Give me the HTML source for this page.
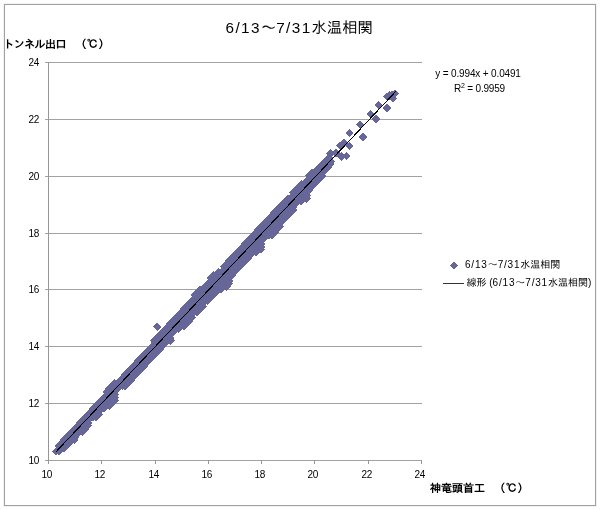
<!DOCTYPE html>
<html lang="ja"><head><meta charset="utf-8"><title>6/13～7/31水温相関</title>
<style>
html,body{margin:0;padding:0;background:#fff}
body{width:600px;height:510px;position:relative;overflow:hidden;font-family:"Liberation Sans","IPAGothic","Noto Sans CJK JP",sans-serif;color:#000}
.t{position:absolute;white-space:nowrap;line-height:1.2}
.title{font-size:15.3px}
.title .l{letter-spacing:1.4px}
.axl{font-size:11px;font-weight:bold}
.tick{font-size:10px;letter-spacing:-0.3px}
.eq{font-size:10px}
.eq sup{font-size:7px;line-height:0;vertical-align:4px}
.lg{font-size:10px}
.lg .l{letter-spacing:0.8px}
</style></head><body>
<svg width="600" height="510" viewBox="0 0 600 510" style="position:absolute;left:0;top:0">
<rect x="3.5" y="3.5" width="593" height="503" fill="none" stroke="#eef3f3" stroke-width="1" shape-rendering="crispEdges"/>
<rect x="4.5" y="4.5" width="591" height="501" fill="#fff" stroke="#a0a0a0" stroke-width="1" shape-rendering="crispEdges"/>
<path d="M45 460.5H421.5M45 403.5H421.5M45 346.5H421.5M45 289.5H421.5M45 233.5H421.5M45 176.5H421.5M45 119.5H421.5M45 62.5H421.5" stroke="#a2a2a2" stroke-width="1" fill="none" shape-rendering="crispEdges"/>
<path d="M48.5 62V464M48.5 460V464M101.5 460V464M155.5 460V464M208.5 460V464M261.5 460V464M314.5 460V464M368.5 460V464M421.5 460V464" stroke="#969696" stroke-width="1" fill="none" shape-rendering="crispEdges"/>
<path d="M51.8 451.5l4.15 -4.15l4.15 4.15l-4.15 4.15zM54.5 451.5l4.15 -4.15l4.15 4.15l-4.15 4.15zM54.5 448.6l4.15 -4.15l4.15 4.15l-4.15 4.15zM57.2 448.6l4.15 -4.15l4.15 4.15l-4.15 4.15zM59.8 448.6l4.15 -4.15l4.15 4.15l-4.15 4.15zM54.5 445.8l4.15 -4.15l4.15 4.15l-4.15 4.15zM57.2 445.8l4.15 -4.15l4.15 4.15l-4.15 4.15zM59.8 445.8l4.15 -4.15l4.15 4.15l-4.15 4.15zM62.5 445.8l4.15 -4.15l4.15 4.15l-4.15 4.15zM57.2 442.9l4.15 -4.15l4.15 4.15l-4.15 4.15zM59.8 442.9l4.15 -4.15l4.15 4.15l-4.15 4.15zM62.5 442.9l4.15 -4.15l4.15 4.15l-4.15 4.15zM65.2 442.9l4.15 -4.15l4.15 4.15l-4.15 4.15zM59.8 440.1l4.15 -4.15l4.15 4.15l-4.15 4.15zM62.5 440.1l4.15 -4.15l4.15 4.15l-4.15 4.15zM65.2 440.1l4.15 -4.15l4.15 4.15l-4.15 4.15zM67.8 440.1l4.15 -4.15l4.15 4.15l-4.15 4.15zM70.5 440.1l4.15 -4.15l4.15 4.15l-4.15 4.15zM62.5 437.3l4.15 -4.15l4.15 4.15l-4.15 4.15zM65.2 437.3l4.15 -4.15l4.15 4.15l-4.15 4.15zM67.8 437.3l4.15 -4.15l4.15 4.15l-4.15 4.15zM70.5 437.3l4.15 -4.15l4.15 4.15l-4.15 4.15zM65.2 434.4l4.15 -4.15l4.15 4.15l-4.15 4.15zM67.8 434.4l4.15 -4.15l4.15 4.15l-4.15 4.15zM70.5 434.4l4.15 -4.15l4.15 4.15l-4.15 4.15zM73.2 434.4l4.15 -4.15l4.15 4.15l-4.15 4.15zM67.8 431.6l4.15 -4.15l4.15 4.15l-4.15 4.15zM70.5 431.6l4.15 -4.15l4.15 4.15l-4.15 4.15zM73.2 431.6l4.15 -4.15l4.15 4.15l-4.15 4.15zM75.8 431.6l4.15 -4.15l4.15 4.15l-4.15 4.15zM78.5 431.6l4.15 -4.15l4.15 4.15l-4.15 4.15zM70.5 428.7l4.15 -4.15l4.15 4.15l-4.15 4.15zM73.2 428.7l4.15 -4.15l4.15 4.15l-4.15 4.15zM75.8 428.7l4.15 -4.15l4.15 4.15l-4.15 4.15zM78.5 428.7l4.15 -4.15l4.15 4.15l-4.15 4.15zM81.2 428.7l4.15 -4.15l4.15 4.15l-4.15 4.15zM73.2 425.9l4.15 -4.15l4.15 4.15l-4.15 4.15zM75.8 425.9l4.15 -4.15l4.15 4.15l-4.15 4.15zM78.5 425.9l4.15 -4.15l4.15 4.15l-4.15 4.15zM81.2 425.9l4.15 -4.15l4.15 4.15l-4.15 4.15zM83.8 425.9l4.15 -4.15l4.15 4.15l-4.15 4.15zM75.8 423.0l4.15 -4.15l4.15 4.15l-4.15 4.15zM78.5 423.0l4.15 -4.15l4.15 4.15l-4.15 4.15zM81.2 423.0l4.15 -4.15l4.15 4.15l-4.15 4.15zM83.8 423.0l4.15 -4.15l4.15 4.15l-4.15 4.15zM78.5 420.2l4.15 -4.15l4.15 4.15l-4.15 4.15zM81.2 420.2l4.15 -4.15l4.15 4.15l-4.15 4.15zM83.8 420.2l4.15 -4.15l4.15 4.15l-4.15 4.15zM81.2 417.4l4.15 -4.15l4.15 4.15l-4.15 4.15zM83.8 417.4l4.15 -4.15l4.15 4.15l-4.15 4.15zM86.5 417.4l4.15 -4.15l4.15 4.15l-4.15 4.15zM89.1 417.4l4.15 -4.15l4.15 4.15l-4.15 4.15zM91.8 417.4l4.15 -4.15l4.15 4.15l-4.15 4.15zM83.8 414.5l4.15 -4.15l4.15 4.15l-4.15 4.15zM86.5 414.5l4.15 -4.15l4.15 4.15l-4.15 4.15zM89.1 414.5l4.15 -4.15l4.15 4.15l-4.15 4.15zM91.8 414.5l4.15 -4.15l4.15 4.15l-4.15 4.15zM94.5 414.5l4.15 -4.15l4.15 4.15l-4.15 4.15zM86.5 411.7l4.15 -4.15l4.15 4.15l-4.15 4.15zM89.1 411.7l4.15 -4.15l4.15 4.15l-4.15 4.15zM91.8 411.7l4.15 -4.15l4.15 4.15l-4.15 4.15zM94.5 411.7l4.15 -4.15l4.15 4.15l-4.15 4.15zM89.1 408.8l4.15 -4.15l4.15 4.15l-4.15 4.15zM91.8 408.8l4.15 -4.15l4.15 4.15l-4.15 4.15zM94.5 408.8l4.15 -4.15l4.15 4.15l-4.15 4.15zM97.1 408.8l4.15 -4.15l4.15 4.15l-4.15 4.15zM99.8 408.8l4.15 -4.15l4.15 4.15l-4.15 4.15zM91.8 406.0l4.15 -4.15l4.15 4.15l-4.15 4.15zM94.5 406.0l4.15 -4.15l4.15 4.15l-4.15 4.15zM97.1 406.0l4.15 -4.15l4.15 4.15l-4.15 4.15zM99.8 406.0l4.15 -4.15l4.15 4.15l-4.15 4.15zM102.5 406.0l4.15 -4.15l4.15 4.15l-4.15 4.15zM105.1 406.0l4.15 -4.15l4.15 4.15l-4.15 4.15zM94.5 403.1l4.15 -4.15l4.15 4.15l-4.15 4.15zM97.1 403.1l4.15 -4.15l4.15 4.15l-4.15 4.15zM99.8 403.1l4.15 -4.15l4.15 4.15l-4.15 4.15zM102.5 403.1l4.15 -4.15l4.15 4.15l-4.15 4.15zM105.1 403.1l4.15 -4.15l4.15 4.15l-4.15 4.15zM107.8 403.1l4.15 -4.15l4.15 4.15l-4.15 4.15zM97.1 400.3l4.15 -4.15l4.15 4.15l-4.15 4.15zM99.8 400.3l4.15 -4.15l4.15 4.15l-4.15 4.15zM102.5 400.3l4.15 -4.15l4.15 4.15l-4.15 4.15zM105.1 400.3l4.15 -4.15l4.15 4.15l-4.15 4.15zM107.8 400.3l4.15 -4.15l4.15 4.15l-4.15 4.15zM110.5 400.3l4.15 -4.15l4.15 4.15l-4.15 4.15zM99.8 397.5l4.15 -4.15l4.15 4.15l-4.15 4.15zM102.5 397.5l4.15 -4.15l4.15 4.15l-4.15 4.15zM105.1 397.5l4.15 -4.15l4.15 4.15l-4.15 4.15zM107.8 397.5l4.15 -4.15l4.15 4.15l-4.15 4.15zM110.5 397.5l4.15 -4.15l4.15 4.15l-4.15 4.15zM102.5 394.6l4.15 -4.15l4.15 4.15l-4.15 4.15zM105.1 394.6l4.15 -4.15l4.15 4.15l-4.15 4.15zM107.8 394.6l4.15 -4.15l4.15 4.15l-4.15 4.15zM110.5 394.6l4.15 -4.15l4.15 4.15l-4.15 4.15zM102.5 391.8l4.15 -4.15l4.15 4.15l-4.15 4.15zM105.1 391.8l4.15 -4.15l4.15 4.15l-4.15 4.15zM107.8 391.8l4.15 -4.15l4.15 4.15l-4.15 4.15zM110.5 391.8l4.15 -4.15l4.15 4.15l-4.15 4.15zM105.1 388.9l4.15 -4.15l4.15 4.15l-4.15 4.15zM107.8 388.9l4.15 -4.15l4.15 4.15l-4.15 4.15zM110.5 388.9l4.15 -4.15l4.15 4.15l-4.15 4.15zM113.1 388.9l4.15 -4.15l4.15 4.15l-4.15 4.15zM107.8 386.1l4.15 -4.15l4.15 4.15l-4.15 4.15zM110.5 386.1l4.15 -4.15l4.15 4.15l-4.15 4.15zM113.1 386.1l4.15 -4.15l4.15 4.15l-4.15 4.15zM115.8 386.1l4.15 -4.15l4.15 4.15l-4.15 4.15zM118.5 386.1l4.15 -4.15l4.15 4.15l-4.15 4.15zM121.1 386.1l4.15 -4.15l4.15 4.15l-4.15 4.15zM110.5 383.2l4.15 -4.15l4.15 4.15l-4.15 4.15zM113.1 383.2l4.15 -4.15l4.15 4.15l-4.15 4.15zM115.8 383.2l4.15 -4.15l4.15 4.15l-4.15 4.15zM118.5 383.2l4.15 -4.15l4.15 4.15l-4.15 4.15zM121.1 383.2l4.15 -4.15l4.15 4.15l-4.15 4.15zM123.8 383.2l4.15 -4.15l4.15 4.15l-4.15 4.15zM115.8 380.4l4.15 -4.15l4.15 4.15l-4.15 4.15zM118.5 380.4l4.15 -4.15l4.15 4.15l-4.15 4.15zM121.1 380.4l4.15 -4.15l4.15 4.15l-4.15 4.15zM123.8 380.4l4.15 -4.15l4.15 4.15l-4.15 4.15zM126.4 380.4l4.15 -4.15l4.15 4.15l-4.15 4.15zM118.5 377.6l4.15 -4.15l4.15 4.15l-4.15 4.15zM121.1 377.6l4.15 -4.15l4.15 4.15l-4.15 4.15zM123.8 377.6l4.15 -4.15l4.15 4.15l-4.15 4.15zM126.4 377.6l4.15 -4.15l4.15 4.15l-4.15 4.15zM129.1 377.6l4.15 -4.15l4.15 4.15l-4.15 4.15zM121.1 374.7l4.15 -4.15l4.15 4.15l-4.15 4.15zM123.8 374.7l4.15 -4.15l4.15 4.15l-4.15 4.15zM126.4 374.7l4.15 -4.15l4.15 4.15l-4.15 4.15zM129.1 374.7l4.15 -4.15l4.15 4.15l-4.15 4.15zM131.8 374.7l4.15 -4.15l4.15 4.15l-4.15 4.15zM123.8 371.9l4.15 -4.15l4.15 4.15l-4.15 4.15zM126.4 371.9l4.15 -4.15l4.15 4.15l-4.15 4.15zM129.1 371.9l4.15 -4.15l4.15 4.15l-4.15 4.15zM131.8 371.9l4.15 -4.15l4.15 4.15l-4.15 4.15zM134.4 371.9l4.15 -4.15l4.15 4.15l-4.15 4.15zM126.4 369.0l4.15 -4.15l4.15 4.15l-4.15 4.15zM129.1 369.0l4.15 -4.15l4.15 4.15l-4.15 4.15zM131.8 369.0l4.15 -4.15l4.15 4.15l-4.15 4.15zM134.4 369.0l4.15 -4.15l4.15 4.15l-4.15 4.15zM137.1 369.0l4.15 -4.15l4.15 4.15l-4.15 4.15zM129.1 366.2l4.15 -4.15l4.15 4.15l-4.15 4.15zM131.8 366.2l4.15 -4.15l4.15 4.15l-4.15 4.15zM134.4 366.2l4.15 -4.15l4.15 4.15l-4.15 4.15zM137.1 366.2l4.15 -4.15l4.15 4.15l-4.15 4.15zM139.8 366.2l4.15 -4.15l4.15 4.15l-4.15 4.15zM131.8 363.3l4.15 -4.15l4.15 4.15l-4.15 4.15zM134.4 363.3l4.15 -4.15l4.15 4.15l-4.15 4.15zM137.1 363.3l4.15 -4.15l4.15 4.15l-4.15 4.15zM139.8 363.3l4.15 -4.15l4.15 4.15l-4.15 4.15zM142.4 363.3l4.15 -4.15l4.15 4.15l-4.15 4.15zM134.4 360.5l4.15 -4.15l4.15 4.15l-4.15 4.15zM137.1 360.5l4.15 -4.15l4.15 4.15l-4.15 4.15zM139.8 360.5l4.15 -4.15l4.15 4.15l-4.15 4.15zM142.4 360.5l4.15 -4.15l4.15 4.15l-4.15 4.15zM145.1 360.5l4.15 -4.15l4.15 4.15l-4.15 4.15zM137.1 357.7l4.15 -4.15l4.15 4.15l-4.15 4.15zM139.8 357.7l4.15 -4.15l4.15 4.15l-4.15 4.15zM142.4 357.7l4.15 -4.15l4.15 4.15l-4.15 4.15zM145.1 357.7l4.15 -4.15l4.15 4.15l-4.15 4.15zM147.8 357.7l4.15 -4.15l4.15 4.15l-4.15 4.15zM139.8 354.8l4.15 -4.15l4.15 4.15l-4.15 4.15zM142.4 354.8l4.15 -4.15l4.15 4.15l-4.15 4.15zM145.1 354.8l4.15 -4.15l4.15 4.15l-4.15 4.15zM147.8 354.8l4.15 -4.15l4.15 4.15l-4.15 4.15zM150.4 354.8l4.15 -4.15l4.15 4.15l-4.15 4.15zM142.4 352.0l4.15 -4.15l4.15 4.15l-4.15 4.15zM145.1 352.0l4.15 -4.15l4.15 4.15l-4.15 4.15zM147.8 352.0l4.15 -4.15l4.15 4.15l-4.15 4.15zM150.4 352.0l4.15 -4.15l4.15 4.15l-4.15 4.15zM153.1 352.0l4.15 -4.15l4.15 4.15l-4.15 4.15zM145.1 349.1l4.15 -4.15l4.15 4.15l-4.15 4.15zM147.8 349.1l4.15 -4.15l4.15 4.15l-4.15 4.15zM150.4 349.1l4.15 -4.15l4.15 4.15l-4.15 4.15zM153.1 349.1l4.15 -4.15l4.15 4.15l-4.15 4.15zM155.7 349.1l4.15 -4.15l4.15 4.15l-4.15 4.15zM147.8 346.3l4.15 -4.15l4.15 4.15l-4.15 4.15zM150.4 346.3l4.15 -4.15l4.15 4.15l-4.15 4.15zM153.1 346.3l4.15 -4.15l4.15 4.15l-4.15 4.15zM155.7 346.3l4.15 -4.15l4.15 4.15l-4.15 4.15zM158.4 346.3l4.15 -4.15l4.15 4.15l-4.15 4.15zM150.4 343.4l4.15 -4.15l4.15 4.15l-4.15 4.15zM153.1 343.4l4.15 -4.15l4.15 4.15l-4.15 4.15zM155.7 343.4l4.15 -4.15l4.15 4.15l-4.15 4.15zM158.4 343.4l4.15 -4.15l4.15 4.15l-4.15 4.15zM161.1 343.4l4.15 -4.15l4.15 4.15l-4.15 4.15zM150.4 340.6l4.15 -4.15l4.15 4.15l-4.15 4.15zM153.1 340.6l4.15 -4.15l4.15 4.15l-4.15 4.15zM155.7 340.6l4.15 -4.15l4.15 4.15l-4.15 4.15zM158.4 340.6l4.15 -4.15l4.15 4.15l-4.15 4.15zM161.1 340.6l4.15 -4.15l4.15 4.15l-4.15 4.15zM163.7 340.6l4.15 -4.15l4.15 4.15l-4.15 4.15zM166.4 340.6l4.15 -4.15l4.15 4.15l-4.15 4.15zM153.1 337.8l4.15 -4.15l4.15 4.15l-4.15 4.15zM155.7 337.8l4.15 -4.15l4.15 4.15l-4.15 4.15zM158.4 337.8l4.15 -4.15l4.15 4.15l-4.15 4.15zM161.1 337.8l4.15 -4.15l4.15 4.15l-4.15 4.15zM163.7 337.8l4.15 -4.15l4.15 4.15l-4.15 4.15zM166.4 337.8l4.15 -4.15l4.15 4.15l-4.15 4.15zM155.7 334.9l4.15 -4.15l4.15 4.15l-4.15 4.15zM158.4 334.9l4.15 -4.15l4.15 4.15l-4.15 4.15zM161.1 334.9l4.15 -4.15l4.15 4.15l-4.15 4.15zM163.7 334.9l4.15 -4.15l4.15 4.15l-4.15 4.15zM166.4 334.9l4.15 -4.15l4.15 4.15l-4.15 4.15zM158.4 332.1l4.15 -4.15l4.15 4.15l-4.15 4.15zM161.1 332.1l4.15 -4.15l4.15 4.15l-4.15 4.15zM163.7 332.1l4.15 -4.15l4.15 4.15l-4.15 4.15zM166.4 332.1l4.15 -4.15l4.15 4.15l-4.15 4.15zM169.1 332.1l4.15 -4.15l4.15 4.15l-4.15 4.15zM161.1 329.2l4.15 -4.15l4.15 4.15l-4.15 4.15zM163.7 329.2l4.15 -4.15l4.15 4.15l-4.15 4.15zM166.4 329.2l4.15 -4.15l4.15 4.15l-4.15 4.15zM169.1 329.2l4.15 -4.15l4.15 4.15l-4.15 4.15zM171.7 329.2l4.15 -4.15l4.15 4.15l-4.15 4.15zM174.4 329.2l4.15 -4.15l4.15 4.15l-4.15 4.15zM163.7 326.4l4.15 -4.15l4.15 4.15l-4.15 4.15zM166.4 326.4l4.15 -4.15l4.15 4.15l-4.15 4.15zM169.1 326.4l4.15 -4.15l4.15 4.15l-4.15 4.15zM171.7 326.4l4.15 -4.15l4.15 4.15l-4.15 4.15zM174.4 326.4l4.15 -4.15l4.15 4.15l-4.15 4.15zM177.1 326.4l4.15 -4.15l4.15 4.15l-4.15 4.15zM179.7 326.4l4.15 -4.15l4.15 4.15l-4.15 4.15zM166.4 323.5l4.15 -4.15l4.15 4.15l-4.15 4.15zM169.1 323.5l4.15 -4.15l4.15 4.15l-4.15 4.15zM171.7 323.5l4.15 -4.15l4.15 4.15l-4.15 4.15zM174.4 323.5l4.15 -4.15l4.15 4.15l-4.15 4.15zM177.1 323.5l4.15 -4.15l4.15 4.15l-4.15 4.15zM179.7 323.5l4.15 -4.15l4.15 4.15l-4.15 4.15zM182.4 323.5l4.15 -4.15l4.15 4.15l-4.15 4.15zM169.1 320.7l4.15 -4.15l4.15 4.15l-4.15 4.15zM171.7 320.7l4.15 -4.15l4.15 4.15l-4.15 4.15zM174.4 320.7l4.15 -4.15l4.15 4.15l-4.15 4.15zM177.1 320.7l4.15 -4.15l4.15 4.15l-4.15 4.15zM179.7 320.7l4.15 -4.15l4.15 4.15l-4.15 4.15zM182.4 320.7l4.15 -4.15l4.15 4.15l-4.15 4.15zM185.1 320.7l4.15 -4.15l4.15 4.15l-4.15 4.15zM171.7 317.9l4.15 -4.15l4.15 4.15l-4.15 4.15zM174.4 317.9l4.15 -4.15l4.15 4.15l-4.15 4.15zM177.1 317.9l4.15 -4.15l4.15 4.15l-4.15 4.15zM179.7 317.9l4.15 -4.15l4.15 4.15l-4.15 4.15zM182.4 317.9l4.15 -4.15l4.15 4.15l-4.15 4.15zM185.1 317.9l4.15 -4.15l4.15 4.15l-4.15 4.15zM187.7 317.9l4.15 -4.15l4.15 4.15l-4.15 4.15zM174.4 315.0l4.15 -4.15l4.15 4.15l-4.15 4.15zM177.1 315.0l4.15 -4.15l4.15 4.15l-4.15 4.15zM179.7 315.0l4.15 -4.15l4.15 4.15l-4.15 4.15zM182.4 315.0l4.15 -4.15l4.15 4.15l-4.15 4.15zM185.1 315.0l4.15 -4.15l4.15 4.15l-4.15 4.15zM187.7 315.0l4.15 -4.15l4.15 4.15l-4.15 4.15zM177.1 312.2l4.15 -4.15l4.15 4.15l-4.15 4.15zM179.7 312.2l4.15 -4.15l4.15 4.15l-4.15 4.15zM182.4 312.2l4.15 -4.15l4.15 4.15l-4.15 4.15zM185.1 312.2l4.15 -4.15l4.15 4.15l-4.15 4.15zM187.7 312.2l4.15 -4.15l4.15 4.15l-4.15 4.15zM190.4 312.2l4.15 -4.15l4.15 4.15l-4.15 4.15zM193.0 312.2l4.15 -4.15l4.15 4.15l-4.15 4.15zM179.7 309.3l4.15 -4.15l4.15 4.15l-4.15 4.15zM182.4 309.3l4.15 -4.15l4.15 4.15l-4.15 4.15zM185.1 309.3l4.15 -4.15l4.15 4.15l-4.15 4.15zM187.7 309.3l4.15 -4.15l4.15 4.15l-4.15 4.15zM190.4 309.3l4.15 -4.15l4.15 4.15l-4.15 4.15zM193.0 309.3l4.15 -4.15l4.15 4.15l-4.15 4.15zM195.7 309.3l4.15 -4.15l4.15 4.15l-4.15 4.15zM182.4 306.5l4.15 -4.15l4.15 4.15l-4.15 4.15zM185.1 306.5l4.15 -4.15l4.15 4.15l-4.15 4.15zM187.7 306.5l4.15 -4.15l4.15 4.15l-4.15 4.15zM190.4 306.5l4.15 -4.15l4.15 4.15l-4.15 4.15zM193.0 306.5l4.15 -4.15l4.15 4.15l-4.15 4.15zM195.7 306.5l4.15 -4.15l4.15 4.15l-4.15 4.15zM198.4 306.5l4.15 -4.15l4.15 4.15l-4.15 4.15zM185.1 303.6l4.15 -4.15l4.15 4.15l-4.15 4.15zM187.7 303.6l4.15 -4.15l4.15 4.15l-4.15 4.15zM190.4 303.6l4.15 -4.15l4.15 4.15l-4.15 4.15zM193.0 303.6l4.15 -4.15l4.15 4.15l-4.15 4.15zM195.7 303.6l4.15 -4.15l4.15 4.15l-4.15 4.15zM198.4 303.6l4.15 -4.15l4.15 4.15l-4.15 4.15zM187.7 300.8l4.15 -4.15l4.15 4.15l-4.15 4.15zM190.4 300.8l4.15 -4.15l4.15 4.15l-4.15 4.15zM193.0 300.8l4.15 -4.15l4.15 4.15l-4.15 4.15zM195.7 300.8l4.15 -4.15l4.15 4.15l-4.15 4.15zM198.4 300.8l4.15 -4.15l4.15 4.15l-4.15 4.15zM201.0 300.8l4.15 -4.15l4.15 4.15l-4.15 4.15zM203.7 300.8l4.15 -4.15l4.15 4.15l-4.15 4.15zM190.4 298.0l4.15 -4.15l4.15 4.15l-4.15 4.15zM193.0 298.0l4.15 -4.15l4.15 4.15l-4.15 4.15zM195.7 298.0l4.15 -4.15l4.15 4.15l-4.15 4.15zM198.4 298.0l4.15 -4.15l4.15 4.15l-4.15 4.15zM201.0 298.0l4.15 -4.15l4.15 4.15l-4.15 4.15zM203.7 298.0l4.15 -4.15l4.15 4.15l-4.15 4.15zM206.4 298.0l4.15 -4.15l4.15 4.15l-4.15 4.15zM190.4 295.1l4.15 -4.15l4.15 4.15l-4.15 4.15zM193.0 295.1l4.15 -4.15l4.15 4.15l-4.15 4.15zM195.7 295.1l4.15 -4.15l4.15 4.15l-4.15 4.15zM198.4 295.1l4.15 -4.15l4.15 4.15l-4.15 4.15zM201.0 295.1l4.15 -4.15l4.15 4.15l-4.15 4.15zM203.7 295.1l4.15 -4.15l4.15 4.15l-4.15 4.15zM206.4 295.1l4.15 -4.15l4.15 4.15l-4.15 4.15zM209.0 295.1l4.15 -4.15l4.15 4.15l-4.15 4.15zM193.0 292.3l4.15 -4.15l4.15 4.15l-4.15 4.15zM195.7 292.3l4.15 -4.15l4.15 4.15l-4.15 4.15zM198.4 292.3l4.15 -4.15l4.15 4.15l-4.15 4.15zM201.0 292.3l4.15 -4.15l4.15 4.15l-4.15 4.15zM203.7 292.3l4.15 -4.15l4.15 4.15l-4.15 4.15zM206.4 292.3l4.15 -4.15l4.15 4.15l-4.15 4.15zM209.0 292.3l4.15 -4.15l4.15 4.15l-4.15 4.15zM211.7 292.3l4.15 -4.15l4.15 4.15l-4.15 4.15zM195.7 289.4l4.15 -4.15l4.15 4.15l-4.15 4.15zM198.4 289.4l4.15 -4.15l4.15 4.15l-4.15 4.15zM201.0 289.4l4.15 -4.15l4.15 4.15l-4.15 4.15zM203.7 289.4l4.15 -4.15l4.15 4.15l-4.15 4.15zM206.4 289.4l4.15 -4.15l4.15 4.15l-4.15 4.15zM209.0 289.4l4.15 -4.15l4.15 4.15l-4.15 4.15zM211.7 289.4l4.15 -4.15l4.15 4.15l-4.15 4.15zM214.4 289.4l4.15 -4.15l4.15 4.15l-4.15 4.15zM217.0 289.4l4.15 -4.15l4.15 4.15l-4.15 4.15zM201.0 286.6l4.15 -4.15l4.15 4.15l-4.15 4.15zM203.7 286.6l4.15 -4.15l4.15 4.15l-4.15 4.15zM206.4 286.6l4.15 -4.15l4.15 4.15l-4.15 4.15zM209.0 286.6l4.15 -4.15l4.15 4.15l-4.15 4.15zM211.7 286.6l4.15 -4.15l4.15 4.15l-4.15 4.15zM214.4 286.6l4.15 -4.15l4.15 4.15l-4.15 4.15zM217.0 286.6l4.15 -4.15l4.15 4.15l-4.15 4.15zM219.7 286.6l4.15 -4.15l4.15 4.15l-4.15 4.15zM222.4 286.6l4.15 -4.15l4.15 4.15l-4.15 4.15zM203.7 283.7l4.15 -4.15l4.15 4.15l-4.15 4.15zM206.4 283.7l4.15 -4.15l4.15 4.15l-4.15 4.15zM209.0 283.7l4.15 -4.15l4.15 4.15l-4.15 4.15zM211.7 283.7l4.15 -4.15l4.15 4.15l-4.15 4.15zM214.4 283.7l4.15 -4.15l4.15 4.15l-4.15 4.15zM217.0 283.7l4.15 -4.15l4.15 4.15l-4.15 4.15zM219.7 283.7l4.15 -4.15l4.15 4.15l-4.15 4.15zM222.4 283.7l4.15 -4.15l4.15 4.15l-4.15 4.15zM225.0 283.7l4.15 -4.15l4.15 4.15l-4.15 4.15zM206.4 280.9l4.15 -4.15l4.15 4.15l-4.15 4.15zM209.0 280.9l4.15 -4.15l4.15 4.15l-4.15 4.15zM211.7 280.9l4.15 -4.15l4.15 4.15l-4.15 4.15zM214.4 280.9l4.15 -4.15l4.15 4.15l-4.15 4.15zM217.0 280.9l4.15 -4.15l4.15 4.15l-4.15 4.15zM219.7 280.9l4.15 -4.15l4.15 4.15l-4.15 4.15zM222.4 280.9l4.15 -4.15l4.15 4.15l-4.15 4.15zM225.0 280.9l4.15 -4.15l4.15 4.15l-4.15 4.15zM206.4 278.1l4.15 -4.15l4.15 4.15l-4.15 4.15zM209.0 278.1l4.15 -4.15l4.15 4.15l-4.15 4.15zM211.7 278.1l4.15 -4.15l4.15 4.15l-4.15 4.15zM214.4 278.1l4.15 -4.15l4.15 4.15l-4.15 4.15zM217.0 278.1l4.15 -4.15l4.15 4.15l-4.15 4.15zM219.7 278.1l4.15 -4.15l4.15 4.15l-4.15 4.15zM222.4 278.1l4.15 -4.15l4.15 4.15l-4.15 4.15zM225.0 278.1l4.15 -4.15l4.15 4.15l-4.15 4.15zM209.0 275.2l4.15 -4.15l4.15 4.15l-4.15 4.15zM211.7 275.2l4.15 -4.15l4.15 4.15l-4.15 4.15zM214.4 275.2l4.15 -4.15l4.15 4.15l-4.15 4.15zM217.0 275.2l4.15 -4.15l4.15 4.15l-4.15 4.15zM219.7 275.2l4.15 -4.15l4.15 4.15l-4.15 4.15zM222.4 275.2l4.15 -4.15l4.15 4.15l-4.15 4.15zM225.0 275.2l4.15 -4.15l4.15 4.15l-4.15 4.15zM227.7 275.2l4.15 -4.15l4.15 4.15l-4.15 4.15zM214.4 272.4l4.15 -4.15l4.15 4.15l-4.15 4.15zM217.0 272.4l4.15 -4.15l4.15 4.15l-4.15 4.15zM219.7 272.4l4.15 -4.15l4.15 4.15l-4.15 4.15zM222.4 272.4l4.15 -4.15l4.15 4.15l-4.15 4.15zM225.0 272.4l4.15 -4.15l4.15 4.15l-4.15 4.15zM227.7 272.4l4.15 -4.15l4.15 4.15l-4.15 4.15zM230.3 272.4l4.15 -4.15l4.15 4.15l-4.15 4.15zM219.7 269.5l4.15 -4.15l4.15 4.15l-4.15 4.15zM222.4 269.5l4.15 -4.15l4.15 4.15l-4.15 4.15zM225.0 269.5l4.15 -4.15l4.15 4.15l-4.15 4.15zM227.7 269.5l4.15 -4.15l4.15 4.15l-4.15 4.15zM230.3 269.5l4.15 -4.15l4.15 4.15l-4.15 4.15zM233.0 269.5l4.15 -4.15l4.15 4.15l-4.15 4.15zM219.7 266.7l4.15 -4.15l4.15 4.15l-4.15 4.15zM222.4 266.7l4.15 -4.15l4.15 4.15l-4.15 4.15zM225.0 266.7l4.15 -4.15l4.15 4.15l-4.15 4.15zM227.7 266.7l4.15 -4.15l4.15 4.15l-4.15 4.15zM230.3 266.7l4.15 -4.15l4.15 4.15l-4.15 4.15zM233.0 266.7l4.15 -4.15l4.15 4.15l-4.15 4.15zM235.7 266.7l4.15 -4.15l4.15 4.15l-4.15 4.15zM222.4 263.8l4.15 -4.15l4.15 4.15l-4.15 4.15zM225.0 263.8l4.15 -4.15l4.15 4.15l-4.15 4.15zM227.7 263.8l4.15 -4.15l4.15 4.15l-4.15 4.15zM230.3 263.8l4.15 -4.15l4.15 4.15l-4.15 4.15zM233.0 263.8l4.15 -4.15l4.15 4.15l-4.15 4.15zM235.7 263.8l4.15 -4.15l4.15 4.15l-4.15 4.15zM238.3 263.8l4.15 -4.15l4.15 4.15l-4.15 4.15zM225.0 261.0l4.15 -4.15l4.15 4.15l-4.15 4.15zM227.7 261.0l4.15 -4.15l4.15 4.15l-4.15 4.15zM230.3 261.0l4.15 -4.15l4.15 4.15l-4.15 4.15zM233.0 261.0l4.15 -4.15l4.15 4.15l-4.15 4.15zM235.7 261.0l4.15 -4.15l4.15 4.15l-4.15 4.15zM238.3 261.0l4.15 -4.15l4.15 4.15l-4.15 4.15zM241.0 261.0l4.15 -4.15l4.15 4.15l-4.15 4.15zM227.7 258.2l4.15 -4.15l4.15 4.15l-4.15 4.15zM230.3 258.2l4.15 -4.15l4.15 4.15l-4.15 4.15zM233.0 258.2l4.15 -4.15l4.15 4.15l-4.15 4.15zM235.7 258.2l4.15 -4.15l4.15 4.15l-4.15 4.15zM238.3 258.2l4.15 -4.15l4.15 4.15l-4.15 4.15zM241.0 258.2l4.15 -4.15l4.15 4.15l-4.15 4.15zM243.7 258.2l4.15 -4.15l4.15 4.15l-4.15 4.15zM230.3 255.3l4.15 -4.15l4.15 4.15l-4.15 4.15zM233.0 255.3l4.15 -4.15l4.15 4.15l-4.15 4.15zM235.7 255.3l4.15 -4.15l4.15 4.15l-4.15 4.15zM238.3 255.3l4.15 -4.15l4.15 4.15l-4.15 4.15zM241.0 255.3l4.15 -4.15l4.15 4.15l-4.15 4.15zM243.7 255.3l4.15 -4.15l4.15 4.15l-4.15 4.15zM246.3 255.3l4.15 -4.15l4.15 4.15l-4.15 4.15zM233.0 252.5l4.15 -4.15l4.15 4.15l-4.15 4.15zM235.7 252.5l4.15 -4.15l4.15 4.15l-4.15 4.15zM238.3 252.5l4.15 -4.15l4.15 4.15l-4.15 4.15zM241.0 252.5l4.15 -4.15l4.15 4.15l-4.15 4.15zM243.7 252.5l4.15 -4.15l4.15 4.15l-4.15 4.15zM246.3 252.5l4.15 -4.15l4.15 4.15l-4.15 4.15zM249.0 252.5l4.15 -4.15l4.15 4.15l-4.15 4.15zM251.7 252.5l4.15 -4.15l4.15 4.15l-4.15 4.15zM235.7 249.6l4.15 -4.15l4.15 4.15l-4.15 4.15zM238.3 249.6l4.15 -4.15l4.15 4.15l-4.15 4.15zM241.0 249.6l4.15 -4.15l4.15 4.15l-4.15 4.15zM243.7 249.6l4.15 -4.15l4.15 4.15l-4.15 4.15zM246.3 249.6l4.15 -4.15l4.15 4.15l-4.15 4.15zM249.0 249.6l4.15 -4.15l4.15 4.15l-4.15 4.15zM251.7 249.6l4.15 -4.15l4.15 4.15l-4.15 4.15zM254.3 249.6l4.15 -4.15l4.15 4.15l-4.15 4.15zM257.0 249.6l4.15 -4.15l4.15 4.15l-4.15 4.15zM238.3 246.8l4.15 -4.15l4.15 4.15l-4.15 4.15zM241.0 246.8l4.15 -4.15l4.15 4.15l-4.15 4.15zM243.7 246.8l4.15 -4.15l4.15 4.15l-4.15 4.15zM246.3 246.8l4.15 -4.15l4.15 4.15l-4.15 4.15zM249.0 246.8l4.15 -4.15l4.15 4.15l-4.15 4.15zM251.7 246.8l4.15 -4.15l4.15 4.15l-4.15 4.15zM254.3 246.8l4.15 -4.15l4.15 4.15l-4.15 4.15zM257.0 246.8l4.15 -4.15l4.15 4.15l-4.15 4.15zM241.0 243.9l4.15 -4.15l4.15 4.15l-4.15 4.15zM243.7 243.9l4.15 -4.15l4.15 4.15l-4.15 4.15zM246.3 243.9l4.15 -4.15l4.15 4.15l-4.15 4.15zM249.0 243.9l4.15 -4.15l4.15 4.15l-4.15 4.15zM251.7 243.9l4.15 -4.15l4.15 4.15l-4.15 4.15zM254.3 243.9l4.15 -4.15l4.15 4.15l-4.15 4.15zM257.0 243.9l4.15 -4.15l4.15 4.15l-4.15 4.15zM243.7 241.1l4.15 -4.15l4.15 4.15l-4.15 4.15zM246.3 241.1l4.15 -4.15l4.15 4.15l-4.15 4.15zM249.0 241.1l4.15 -4.15l4.15 4.15l-4.15 4.15zM251.7 241.1l4.15 -4.15l4.15 4.15l-4.15 4.15zM254.3 241.1l4.15 -4.15l4.15 4.15l-4.15 4.15zM257.0 241.1l4.15 -4.15l4.15 4.15l-4.15 4.15zM246.3 238.3l4.15 -4.15l4.15 4.15l-4.15 4.15zM249.0 238.3l4.15 -4.15l4.15 4.15l-4.15 4.15zM251.7 238.3l4.15 -4.15l4.15 4.15l-4.15 4.15zM254.3 238.3l4.15 -4.15l4.15 4.15l-4.15 4.15zM257.0 238.3l4.15 -4.15l4.15 4.15l-4.15 4.15zM259.7 238.3l4.15 -4.15l4.15 4.15l-4.15 4.15zM249.0 235.4l4.15 -4.15l4.15 4.15l-4.15 4.15zM251.7 235.4l4.15 -4.15l4.15 4.15l-4.15 4.15zM254.3 235.4l4.15 -4.15l4.15 4.15l-4.15 4.15zM257.0 235.4l4.15 -4.15l4.15 4.15l-4.15 4.15zM259.7 235.4l4.15 -4.15l4.15 4.15l-4.15 4.15zM262.3 235.4l4.15 -4.15l4.15 4.15l-4.15 4.15zM265.0 235.4l4.15 -4.15l4.15 4.15l-4.15 4.15zM267.6 235.4l4.15 -4.15l4.15 4.15l-4.15 4.15zM251.7 232.6l4.15 -4.15l4.15 4.15l-4.15 4.15zM254.3 232.6l4.15 -4.15l4.15 4.15l-4.15 4.15zM257.0 232.6l4.15 -4.15l4.15 4.15l-4.15 4.15zM259.7 232.6l4.15 -4.15l4.15 4.15l-4.15 4.15zM262.3 232.6l4.15 -4.15l4.15 4.15l-4.15 4.15zM265.0 232.6l4.15 -4.15l4.15 4.15l-4.15 4.15zM267.6 232.6l4.15 -4.15l4.15 4.15l-4.15 4.15zM270.3 232.6l4.15 -4.15l4.15 4.15l-4.15 4.15zM254.3 229.7l4.15 -4.15l4.15 4.15l-4.15 4.15zM257.0 229.7l4.15 -4.15l4.15 4.15l-4.15 4.15zM259.7 229.7l4.15 -4.15l4.15 4.15l-4.15 4.15zM262.3 229.7l4.15 -4.15l4.15 4.15l-4.15 4.15zM265.0 229.7l4.15 -4.15l4.15 4.15l-4.15 4.15zM267.6 229.7l4.15 -4.15l4.15 4.15l-4.15 4.15zM270.3 229.7l4.15 -4.15l4.15 4.15l-4.15 4.15zM273.0 229.7l4.15 -4.15l4.15 4.15l-4.15 4.15zM257.0 226.9l4.15 -4.15l4.15 4.15l-4.15 4.15zM259.7 226.9l4.15 -4.15l4.15 4.15l-4.15 4.15zM262.3 226.9l4.15 -4.15l4.15 4.15l-4.15 4.15zM265.0 226.9l4.15 -4.15l4.15 4.15l-4.15 4.15zM267.6 226.9l4.15 -4.15l4.15 4.15l-4.15 4.15zM270.3 226.9l4.15 -4.15l4.15 4.15l-4.15 4.15zM273.0 226.9l4.15 -4.15l4.15 4.15l-4.15 4.15zM275.6 226.9l4.15 -4.15l4.15 4.15l-4.15 4.15zM259.7 224.0l4.15 -4.15l4.15 4.15l-4.15 4.15zM262.3 224.0l4.15 -4.15l4.15 4.15l-4.15 4.15zM265.0 224.0l4.15 -4.15l4.15 4.15l-4.15 4.15zM267.6 224.0l4.15 -4.15l4.15 4.15l-4.15 4.15zM270.3 224.0l4.15 -4.15l4.15 4.15l-4.15 4.15zM273.0 224.0l4.15 -4.15l4.15 4.15l-4.15 4.15zM275.6 224.0l4.15 -4.15l4.15 4.15l-4.15 4.15zM262.3 221.2l4.15 -4.15l4.15 4.15l-4.15 4.15zM265.0 221.2l4.15 -4.15l4.15 4.15l-4.15 4.15zM267.6 221.2l4.15 -4.15l4.15 4.15l-4.15 4.15zM270.3 221.2l4.15 -4.15l4.15 4.15l-4.15 4.15zM273.0 221.2l4.15 -4.15l4.15 4.15l-4.15 4.15zM275.6 221.2l4.15 -4.15l4.15 4.15l-4.15 4.15zM278.3 221.2l4.15 -4.15l4.15 4.15l-4.15 4.15zM265.0 218.4l4.15 -4.15l4.15 4.15l-4.15 4.15zM267.6 218.4l4.15 -4.15l4.15 4.15l-4.15 4.15zM270.3 218.4l4.15 -4.15l4.15 4.15l-4.15 4.15zM273.0 218.4l4.15 -4.15l4.15 4.15l-4.15 4.15zM275.6 218.4l4.15 -4.15l4.15 4.15l-4.15 4.15zM278.3 218.4l4.15 -4.15l4.15 4.15l-4.15 4.15zM281.0 218.4l4.15 -4.15l4.15 4.15l-4.15 4.15zM267.6 215.5l4.15 -4.15l4.15 4.15l-4.15 4.15zM270.3 215.5l4.15 -4.15l4.15 4.15l-4.15 4.15zM273.0 215.5l4.15 -4.15l4.15 4.15l-4.15 4.15zM275.6 215.5l4.15 -4.15l4.15 4.15l-4.15 4.15zM278.3 215.5l4.15 -4.15l4.15 4.15l-4.15 4.15zM281.0 215.5l4.15 -4.15l4.15 4.15l-4.15 4.15zM283.6 215.5l4.15 -4.15l4.15 4.15l-4.15 4.15zM270.3 212.7l4.15 -4.15l4.15 4.15l-4.15 4.15zM273.0 212.7l4.15 -4.15l4.15 4.15l-4.15 4.15zM275.6 212.7l4.15 -4.15l4.15 4.15l-4.15 4.15zM278.3 212.7l4.15 -4.15l4.15 4.15l-4.15 4.15zM281.0 212.7l4.15 -4.15l4.15 4.15l-4.15 4.15zM283.6 212.7l4.15 -4.15l4.15 4.15l-4.15 4.15zM286.3 212.7l4.15 -4.15l4.15 4.15l-4.15 4.15zM273.0 209.8l4.15 -4.15l4.15 4.15l-4.15 4.15zM275.6 209.8l4.15 -4.15l4.15 4.15l-4.15 4.15zM278.3 209.8l4.15 -4.15l4.15 4.15l-4.15 4.15zM281.0 209.8l4.15 -4.15l4.15 4.15l-4.15 4.15zM283.6 209.8l4.15 -4.15l4.15 4.15l-4.15 4.15zM286.3 209.8l4.15 -4.15l4.15 4.15l-4.15 4.15zM289.0 209.8l4.15 -4.15l4.15 4.15l-4.15 4.15zM275.6 207.0l4.15 -4.15l4.15 4.15l-4.15 4.15zM278.3 207.0l4.15 -4.15l4.15 4.15l-4.15 4.15zM281.0 207.0l4.15 -4.15l4.15 4.15l-4.15 4.15zM283.6 207.0l4.15 -4.15l4.15 4.15l-4.15 4.15zM286.3 207.0l4.15 -4.15l4.15 4.15l-4.15 4.15zM289.0 207.0l4.15 -4.15l4.15 4.15l-4.15 4.15zM278.3 204.1l4.15 -4.15l4.15 4.15l-4.15 4.15zM281.0 204.1l4.15 -4.15l4.15 4.15l-4.15 4.15zM283.6 204.1l4.15 -4.15l4.15 4.15l-4.15 4.15zM286.3 204.1l4.15 -4.15l4.15 4.15l-4.15 4.15zM289.0 204.1l4.15 -4.15l4.15 4.15l-4.15 4.15zM291.6 204.1l4.15 -4.15l4.15 4.15l-4.15 4.15zM281.0 201.3l4.15 -4.15l4.15 4.15l-4.15 4.15zM283.6 201.3l4.15 -4.15l4.15 4.15l-4.15 4.15zM286.3 201.3l4.15 -4.15l4.15 4.15l-4.15 4.15zM289.0 201.3l4.15 -4.15l4.15 4.15l-4.15 4.15zM291.6 201.3l4.15 -4.15l4.15 4.15l-4.15 4.15zM294.3 201.3l4.15 -4.15l4.15 4.15l-4.15 4.15zM297.0 201.3l4.15 -4.15l4.15 4.15l-4.15 4.15zM283.6 198.5l4.15 -4.15l4.15 4.15l-4.15 4.15zM286.3 198.5l4.15 -4.15l4.15 4.15l-4.15 4.15zM289.0 198.5l4.15 -4.15l4.15 4.15l-4.15 4.15zM291.6 198.5l4.15 -4.15l4.15 4.15l-4.15 4.15zM294.3 198.5l4.15 -4.15l4.15 4.15l-4.15 4.15zM297.0 198.5l4.15 -4.15l4.15 4.15l-4.15 4.15zM299.6 198.5l4.15 -4.15l4.15 4.15l-4.15 4.15zM302.3 198.5l4.15 -4.15l4.15 4.15l-4.15 4.15zM289.0 195.6l4.15 -4.15l4.15 4.15l-4.15 4.15zM291.6 195.6l4.15 -4.15l4.15 4.15l-4.15 4.15zM294.3 195.6l4.15 -4.15l4.15 4.15l-4.15 4.15zM297.0 195.6l4.15 -4.15l4.15 4.15l-4.15 4.15zM299.6 195.6l4.15 -4.15l4.15 4.15l-4.15 4.15zM302.3 195.6l4.15 -4.15l4.15 4.15l-4.15 4.15zM289.0 192.8l4.15 -4.15l4.15 4.15l-4.15 4.15zM291.6 192.8l4.15 -4.15l4.15 4.15l-4.15 4.15zM294.3 192.8l4.15 -4.15l4.15 4.15l-4.15 4.15zM297.0 192.8l4.15 -4.15l4.15 4.15l-4.15 4.15zM299.6 192.8l4.15 -4.15l4.15 4.15l-4.15 4.15zM302.3 192.8l4.15 -4.15l4.15 4.15l-4.15 4.15zM291.6 189.9l4.15 -4.15l4.15 4.15l-4.15 4.15zM294.3 189.9l4.15 -4.15l4.15 4.15l-4.15 4.15zM297.0 189.9l4.15 -4.15l4.15 4.15l-4.15 4.15zM299.6 189.9l4.15 -4.15l4.15 4.15l-4.15 4.15zM302.3 189.9l4.15 -4.15l4.15 4.15l-4.15 4.15zM305.0 189.9l4.15 -4.15l4.15 4.15l-4.15 4.15zM294.3 187.1l4.15 -4.15l4.15 4.15l-4.15 4.15zM297.0 187.1l4.15 -4.15l4.15 4.15l-4.15 4.15zM299.6 187.1l4.15 -4.15l4.15 4.15l-4.15 4.15zM302.3 187.1l4.15 -4.15l4.15 4.15l-4.15 4.15zM305.0 187.1l4.15 -4.15l4.15 4.15l-4.15 4.15zM307.6 187.1l4.15 -4.15l4.15 4.15l-4.15 4.15zM297.0 184.2l4.15 -4.15l4.15 4.15l-4.15 4.15zM299.6 184.2l4.15 -4.15l4.15 4.15l-4.15 4.15zM302.3 184.2l4.15 -4.15l4.15 4.15l-4.15 4.15zM305.0 184.2l4.15 -4.15l4.15 4.15l-4.15 4.15zM307.6 184.2l4.15 -4.15l4.15 4.15l-4.15 4.15zM310.3 184.2l4.15 -4.15l4.15 4.15l-4.15 4.15zM302.3 181.4l4.15 -4.15l4.15 4.15l-4.15 4.15zM305.0 181.4l4.15 -4.15l4.15 4.15l-4.15 4.15zM307.6 181.4l4.15 -4.15l4.15 4.15l-4.15 4.15zM310.3 181.4l4.15 -4.15l4.15 4.15l-4.15 4.15zM312.9 181.4l4.15 -4.15l4.15 4.15l-4.15 4.15zM305.0 178.6l4.15 -4.15l4.15 4.15l-4.15 4.15zM307.6 178.6l4.15 -4.15l4.15 4.15l-4.15 4.15zM310.3 178.6l4.15 -4.15l4.15 4.15l-4.15 4.15zM312.9 178.6l4.15 -4.15l4.15 4.15l-4.15 4.15zM315.6 178.6l4.15 -4.15l4.15 4.15l-4.15 4.15zM305.0 175.7l4.15 -4.15l4.15 4.15l-4.15 4.15zM307.6 175.7l4.15 -4.15l4.15 4.15l-4.15 4.15zM310.3 175.7l4.15 -4.15l4.15 4.15l-4.15 4.15zM312.9 175.7l4.15 -4.15l4.15 4.15l-4.15 4.15zM315.6 175.7l4.15 -4.15l4.15 4.15l-4.15 4.15zM318.3 175.7l4.15 -4.15l4.15 4.15l-4.15 4.15zM307.6 172.9l4.15 -4.15l4.15 4.15l-4.15 4.15zM310.3 172.9l4.15 -4.15l4.15 4.15l-4.15 4.15zM312.9 172.9l4.15 -4.15l4.15 4.15l-4.15 4.15zM315.6 172.9l4.15 -4.15l4.15 4.15l-4.15 4.15zM318.3 172.9l4.15 -4.15l4.15 4.15l-4.15 4.15zM312.9 170.0l4.15 -4.15l4.15 4.15l-4.15 4.15zM315.6 170.0l4.15 -4.15l4.15 4.15l-4.15 4.15zM318.3 170.0l4.15 -4.15l4.15 4.15l-4.15 4.15zM320.9 170.0l4.15 -4.15l4.15 4.15l-4.15 4.15zM315.6 167.2l4.15 -4.15l4.15 4.15l-4.15 4.15zM318.3 167.2l4.15 -4.15l4.15 4.15l-4.15 4.15zM320.9 167.2l4.15 -4.15l4.15 4.15l-4.15 4.15zM323.6 167.2l4.15 -4.15l4.15 4.15l-4.15 4.15zM318.3 164.3l4.15 -4.15l4.15 4.15l-4.15 4.15zM320.9 164.3l4.15 -4.15l4.15 4.15l-4.15 4.15zM323.6 164.3l4.15 -4.15l4.15 4.15l-4.15 4.15zM326.3 164.3l4.15 -4.15l4.15 4.15l-4.15 4.15zM320.9 161.5l4.15 -4.15l4.15 4.15l-4.15 4.15zM323.6 161.5l4.15 -4.15l4.15 4.15l-4.15 4.15zM326.3 161.5l4.15 -4.15l4.15 4.15l-4.15 4.15zM153.0 326.9l4.15 -4.15l4.15 4.15l-4.15 4.15zM387.9 94.7l4.15 -4.15l4.15 4.15l-4.15 4.15zM382.9 96.7l4.15 -4.15l4.15 4.15l-4.15 4.15zM390.9 93.7l4.15 -4.15l4.15 4.15l-4.15 4.15zM388.9 98.6l4.15 -4.15l4.15 4.15l-4.15 4.15zM385.4 95.5l4.15 -4.15l4.15 4.15l-4.15 4.15zM374.2 105.0l4.15 -4.15l4.15 4.15l-4.15 4.15zM382.9 108.0l4.15 -4.15l4.15 4.15l-4.15 4.15zM366.5 114.3l4.15 -4.15l4.15 4.15l-4.15 4.15zM371.9 119.0l4.15 -4.15l4.15 4.15l-4.15 4.15zM355.7 124.7l4.15 -4.15l4.15 4.15l-4.15 4.15zM345.4 133.0l4.15 -4.15l4.15 4.15l-4.15 4.15zM358.9 137.0l4.15 -4.15l4.15 4.15l-4.15 4.15zM339.9 143.0l4.15 -4.15l4.15 4.15l-4.15 4.15zM335.9 145.5l4.15 -4.15l4.15 4.15l-4.15 4.15zM345.4 146.0l4.15 -4.15l4.15 4.15l-4.15 4.15zM326.4 153.5l4.15 -4.15l4.15 4.15l-4.15 4.15zM331.9 153.0l4.15 -4.15l4.15 4.15l-4.15 4.15zM337.4 156.5l4.15 -4.15l4.15 4.15l-4.15 4.15zM342.4 156.0l4.15 -4.15l4.15 4.15l-4.15 4.15zM324.9 157.5l4.15 -4.15l4.15 4.15l-4.15 4.15z" fill="#666699" shape-rendering="crispEdges"/>
<line x1="56.0" y1="451.8" x2="395.7" y2="91.5" stroke="#000" stroke-width="1" shape-rendering="crispEdges"/>
<path d="M450 265.5l4 -4l4 4l-4 4z" fill="#666699" shape-rendering="crispEdges"/>
<path d="M443 283.5H464" stroke="#333" stroke-width="1" shape-rendering="crispEdges"/>
</svg>
<div class="t title" style="left:225.5px;top:18.5px;"><span class="l">6/13</span>～<span class="l">7/31</span>水温相関</div>
<div class="t axl" style="left:3.2px;top:37.5px;letter-spacing:-0.55px">トンネル出口</div>
<div class="t axl" style="left:75.5px;top:37.5px;letter-spacing:0.5px">（℃）</div>
<div class="t axl" style="left:430px;top:482px;">神竜頭首工</div>
<div class="t axl" style="left:494.3px;top:482px;letter-spacing:0.6px">（℃）</div>
<div class="t tick" style="left:10px;width:29px;text-align:right;top:455px">10</div>
<div class="t tick" style="left:10px;width:29px;text-align:right;top:398px">12</div>
<div class="t tick" style="left:10px;width:29px;text-align:right;top:341px">14</div>
<div class="t tick" style="left:10px;width:29px;text-align:right;top:284px">16</div>
<div class="t tick" style="left:10px;width:29px;text-align:right;top:228px">18</div>
<div class="t tick" style="left:10px;width:29px;text-align:right;top:171px">20</div>
<div class="t tick" style="left:10px;width:29px;text-align:right;top:114px">22</div>
<div class="t tick" style="left:10px;width:29px;text-align:right;top:57px">24</div>
<div class="t tick" style="left:31.7px;width:30px;text-align:center;top:469px">10</div>
<div class="t tick" style="left:84.7px;width:30px;text-align:center;top:469px">12</div>
<div class="t tick" style="left:138.7px;width:30px;text-align:center;top:469px">14</div>
<div class="t tick" style="left:191.7px;width:30px;text-align:center;top:469px">16</div>
<div class="t tick" style="left:244.7px;width:30px;text-align:center;top:469px">18</div>
<div class="t tick" style="left:297.7px;width:30px;text-align:center;top:469px">20</div>
<div class="t tick" style="left:351.7px;width:30px;text-align:center;top:469px">22</div>
<div class="t tick" style="left:404.7px;width:30px;text-align:center;top:469px">24</div>
<div class="t eq" style="left:428px;width:100px;text-align:center;top:67.8px;letter-spacing:-0.15px">y = 0.994x + 0.0491</div>
<div class="t eq" style="left:429.5px;width:100px;text-align:center;top:82.5px;letter-spacing:-0.2px">R<sup>2</sup> = 0.9959</div>
<div class="t lg" style="left:465px;top:259px;"><span class="l">6/13</span>～<span class="l">7/31</span>水温相関</div>
<div class="t lg" style="left:466.5px;top:277px;">線形 (<span class="l">6/13</span>～<span class="l">7/31</span>水温相関)</div>
</body></html>
